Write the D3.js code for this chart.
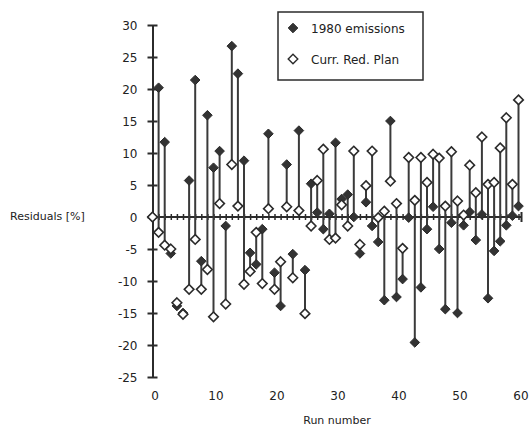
<!DOCTYPE html>
<html>
<head>
<meta charset="utf-8">
<script src="https://cdn.jsdelivr.net/npm/d3@7"></script>
<style>
  body { margin: 0; background: #fff; }
  svg text { font-family: "DejaVu Sans", sans-serif; fill: #222; }
</style>
</head>
<body>
<div class="chart"></div>
<script>
const WIDTH = 531;
const HEIGHT = 430;

// run numbers 0..60
var runs = [
  0, 1, 2, 3, 4, 5, 6, 7, 8, 9, 10, 11, 12, 13, 14, 15, 16, 17, 18, 19, 20,
  21, 22, 23, 24, 25, 26, 27, 28, 29, 30, 31, 32, 33, 34, 35, 36, 37, 38, 39, 40,
  41, 42, 43, 44, 45, 46, 47, 48, 49, 50, 51, 52, 53, 54, 55, 56, 57, 58, 59, 60
];

// residuals (%)
var emissions1980 = [
  0, 20.2, 11.7, -5.7, -13.9, -15.0, 5.7, 21.4, -6.9, 15.9, 7.7,
  10.3, -1.4, 26.7, 22.4, 8.8, -5.6, -7.4, -1.9, 13.0, -8.7,
  -13.9, 8.2, -5.8, 13.5, -8.3, 5.2, 0.7, -1.9, 0.5, 11.6,
  2.8, 3.5, 0.0, -5.7, 2.3, -1.4, -3.9, -13.0, 15.0, -12.5,
  -9.7, -0.1, -19.6, -11.0, -1.9, 1.6, -5.0, -14.4, -0.9, -15.0,
  -1.3, 0.8, -3.6, 0.4, -12.7, -5.3, -3.8, -1.3, 0.2, 1.7
];

var currRedPlan = [
  0, -2.4, -4.4, -5.0, -13.4, -15.2, -11.3, -3.5, -11.3, -8.2, -15.6,
  2.1, -13.6, 8.2, 1.7, -10.5, -8.5, -2.4, -10.4, 1.3, -11.3,
  -7.0, 1.6, -9.5, 1.0, -15.1, -1.4, 5.7, 10.6, -3.5, -3.3,
  1.9, -1.4, 10.3, -4.3, 4.9, 10.3, -0.1, 0.9, 5.6, 2.1,
  -4.9, 9.3, 2.6, 9.3, 5.4, 9.8, 9.2, 1.7, 10.2, 2.5,
  0.3, 8.1, 3.8, 12.5, 5.1, 5.4, 10.8, 15.5, 5.1, 18.3
];

var yTicks = [-25, -20, -15, -10, -5, 0, 5, 10, 15, 20, 25, 30];
var xTicks = [0, 10, 20, 30, 40, 50, 60];
var seriesNames = ['1980 emissions', 'Curr. Red. Plan'];

var INK = '#2b2b2b';
var DIAMOND = 'M0,-4.8L4.8,0L0,4.8L-4.8,0Z';

var xScale = d3.scaleLinear().domain([0, 60]).range([152.5, 518.5]);
var yScale = d3.scaleLinear().domain([-25, 30]).range([377, 25]);

var svg = d3.select('.chart').append('svg')
    .attr('width', WIDTH)
    .attr('height', HEIGHT);

// plain hyphen for negatives, like the original
function tickLabel(v) {
    return String(v);
}

function drawAxes() {
    // y axis with crossing ticks
    var yAxis = d3.axisLeft(yScale).tickValues(yTicks).tickFormat(tickLabel)
        .tickSize(5).tickSizeOuter(0).tickPadding(10);
    var yG = svg.append('g').attr('transform', 'translate(' + xScale(0) + ',0)').call(yAxis);
    yG.select('.domain').attr('stroke', INK).attr('stroke-width', 2);
    yG.selectAll('.tick line').attr('x1', -5).attr('x2', 5).attr('stroke', INK).attr('stroke-width', 2);
    yG.selectAll('.tick text').style('font-size', '12px').attr('dy', '0.36em');

    // x axis drawn along zero, one small tick per run
    var zeroAxis = d3.axisBottom(xScale).tickValues(runs).tickSize(3).tickSizeOuter(0).tickFormat('');
    var zG = svg.append('g').attr('transform', 'translate(0,' + yScale(0) + ')').call(zeroAxis);
    zG.select('.domain').attr('stroke', INK).attr('stroke-width', 2)
        .attr('d', 'M' + xScale(0) + ',0H' + (xScale(60) + 3));
    zG.selectAll('.tick line').attr('y1', -3).attr('y2', 3).attr('stroke', INK).attr('stroke-width', 1.5);
    zG.append('line')
        .attr('x1', xScale(60) + 3).attr('x2', xScale(60) + 3)
        .attr('y1', -5).attr('y2', 5)
        .attr('stroke', INK).attr('stroke-width', 2);

    // x tick labels at the bottom
    var xAxis = d3.axisBottom(xScale).tickValues(xTicks).tickFormat(tickLabel).tickSize(0).tickPadding(0);
    var xG = svg.append('g').attr('transform', 'translate(2,' + (yScale(-25) + 14) + ')').call(xAxis);
    xG.select('.domain').remove();
    xG.selectAll('.tick text').style('font-size', '12px');

    svg.append('text')
        .attr('x', 337).attr('y', 424)
        .attr('text-anchor', 'middle')
        .style('font-size', '11px')
        .text('Run number');

    svg.append('text')
        .attr('x', 10).attr('y', 220)
        .style('font-size', '11px')
        .text('Residuals [%]');
}

function drawStems() {
    svg.append('g').selectAll('line').data(runs).enter().append('line')
        .attr('x1', function (d) { return xScale(d); })
        .attr('x2', function (d) { return xScale(d); })
        .attr('y1', function (d, i) { return yScale(emissions1980[i]); })
        .attr('y2', function (d, i) { return yScale(currRedPlan[i]); })
        .attr('stroke', '#3a3a3a')
        .attr('stroke-width', 2);
}

function drawMarkers(values, filled) {
    svg.append('g').selectAll('path').data(runs).enter().append('path')
        .attr('d', DIAMOND)
        .attr('transform', function (d, i) {
            return 'translate(' + xScale(d) + ',' + yScale(values[i]) + ')';
        })
        .attr('fill', filled ? '#333' : '#fff')
        .attr('stroke', INK)
        .attr('stroke-width', filled ? 1 : 1.6);
}

function drawLegend() {
    var g = svg.append('g').attr('transform', 'translate(278,12)');
    g.append('rect')
        .attr('width', 145).attr('height', 68)
        .attr('fill', '#fff')
        .attr('stroke', INK).attr('stroke-width', 1.5);
    seriesNames.forEach(function (name, i) {
        var cy = 16 + i * 31;
        g.append('path')
            .attr('d', DIAMOND)
            .attr('transform', 'translate(15,' + cy + ')')
            .attr('fill', i === 0 ? '#333' : '#fff')
            .attr('stroke', INK)
            .attr('stroke-width', i === 0 ? 1 : 1.4);
        g.append('text')
            .attr('x', 33).attr('y', cy + 5)
            .style('font-size', '12px')
            .text(name);
    });
}

drawAxes();
drawStems();
drawMarkers(emissions1980, true);
drawMarkers(currRedPlan, false);
drawLegend();
</script>
</body>
</html>
